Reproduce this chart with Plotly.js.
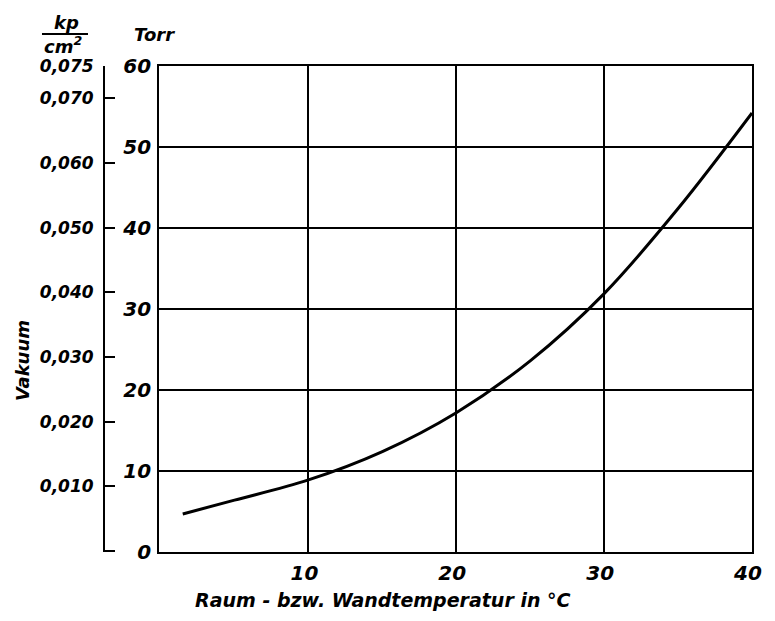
<!DOCTYPE html>
<html>
<head>
<meta charset="utf-8">
<script src="https://cdn.plot.ly/plotly-3.0.1.min.js"></script>
<style>html,body{margin:0;padding:0;background:#fff;}#chart{width:775px;height:621px;}</style>
</head>
<body>
<div id="chart"></div>
<script>
// Temperature in °C
const temperature = [1.5, 5, 10, 15, 20, 25, 30, 35, 40];
// Vacuum in Torr
const vacuumTorr = [4.7, 6.4, 8.9, 12.4, 17.2, 23.6, 31.9, 42.4, 54.2];

const torrTicks = [0, 10, 20, 30, 40, 50, 60];
const torrTickText = ['0', '10', '20', '30', '40', '50', '60'];
const kpTicks = [0, 0.01, 0.02, 0.03, 0.04, 0.05, 0.06, 0.07, 0.075];
const kpTickText = [' ', '0,010', '0,020', '0,030', '0,040', '0,050', '0,060', '0,070', '0,075'];
const tempTicks = [10, 20, 30, 40];
const tempTickText = ['10', '20', '30', '40'];

const FONT = 'DejaVu Sans';
const tickFont = {family: FONT, size: 20, color: '#000', style: 'italic', weight: 600};

const traces = [
  {
    x: temperature, y: vacuumTorr, type: 'scatter', mode: 'lines',
    line: {color: '#000', width: 3, shape: 'spline', smoothing: 1},
    showlegend: false, hoverinfo: 'skip'
  },
  {
    x: [], y: [], type: 'scatter', mode: 'lines', yaxis: 'y2',
    showlegend: false, hoverinfo: 'skip'
  }
];

const layout = {
  width: 775, height: 621,
  margin: {l: 104, r: 23, t: 66, b: 69},
  paper_bgcolor: '#fff', plot_bgcolor: '#fff',
  showlegend: false,
  font: {family: FONT, color: '#000'},
  xaxis: {
    domain: [0.085, 1],
    range: [-0.1, 40],
    tickvals: tempTicks, ticktext: tempTickText,
    tickfont: tickFont, ticks: '', ticklen: 0, ticklabelstandoff: 2, ticklabelshift: -4,
    showgrid: true, gridcolor: '#000', gridwidth: 2,
    showline: true, linecolor: '#000', linewidth: 2, mirror: true,
    zeroline: false, fixedrange: true
  },
  yaxis: {
    range: [0, 60],
    tickvals: torrTicks, ticktext: torrTickText,
    tickfont: tickFont, ticks: '', ticklen: 0, ticklabelstandoff: 2,
    showgrid: true, gridcolor: '#000', gridwidth: 2,
    showline: true, linecolor: '#000', linewidth: 2, mirror: true,
    zeroline: false, fixedrange: true
  },
  yaxis2: {
    overlaying: 'y', anchor: 'free', position: 0, side: 'left',
    range: [-0.00018, 0.075],
    tickvals: kpTicks, ticktext: kpTickText,
    tickfont: {family: FONT, size: 17, color: '#000', style: 'italic', weight: 600},
    ticks: 'inside', ticklen: 10, tickwidth: 2, tickcolor: '#000',
    ticklabelstandoff: 6,
    showline: true, linecolor: '#000', linewidth: 2,
    showgrid: false, zeroline: false, fixedrange: true
  },
  annotations: [
    {text: 'Raum - bzw. Wandtemperatur in °C', xref: 'paper', yref: 'paper', x: 0.43, y: -0.099,
     xanchor: 'center', yanchor: 'middle', showarrow: false,
     font: {family: FONT, size: 19, color: '#000', style: 'italic', weight: 600}},
    {text: 'Vakuum', xref: 'paper', yref: 'paper', x: -0.1265, y: 0.393, textangle: -90,
     xanchor: 'center', yanchor: 'middle', showarrow: false,
     font: {family: FONT, size: 18, color: '#000', style: 'italic', weight: 600}},
    {text: 'kp', xref: 'paper', yref: 'paper', x: -0.0586, y: 1.0905,
     xanchor: 'center', yanchor: 'middle', showarrow: false,
     font: {family: FONT, size: 18, color: '#000', style: 'italic', weight: 600}},
    {text: 'cm<sup>2</sup>', xref: 'paper', yref: 'paper', x: -0.0633, y: 1.043,
     xanchor: 'center', yanchor: 'middle', showarrow: false,
     font: {family: FONT, size: 18, color: '#000', style: 'italic', weight: 600}},
    {text: 'Torr', xref: 'paper', yref: 'paper', x: 0.0772, y: 1.0658,
     xanchor: 'center', yanchor: 'middle', showarrow: false,
     font: {family: FONT, size: 18, color: '#000', style: 'italic', weight: 600}}
  ],
  shapes: [
    {type: 'line', xref: 'paper', yref: 'paper', x0: -0.0957, x1: -0.0247, y0: 1.0658, y1: 1.0658,
     line: {color: '#000', width: 2}}
  ]
};

Plotly.newPlot('chart', traces, layout, {displayModeBar: false, staticPlot: true});
</script>
</body>
</html>
